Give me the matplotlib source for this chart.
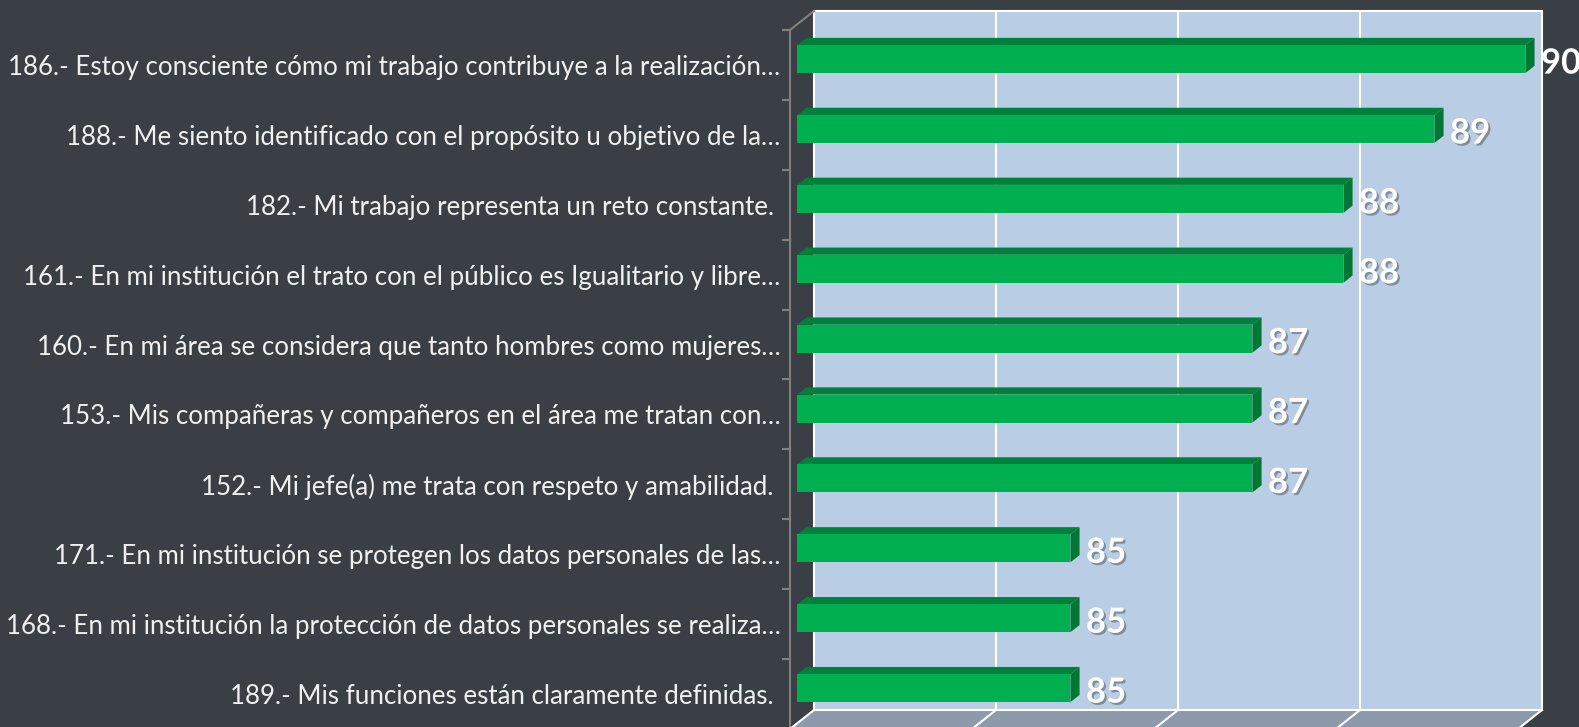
import matplotlib
matplotlib.use("Agg")
import matplotlib.pyplot as plt
import matplotlib.patheffects as pe
from matplotlib.patches import Polygon, Rectangle
from matplotlib.lines import Line2D
from matplotlib.transforms import IdentityTransform, ScaledTranslation
import numpy as np

labels = [
    "186.- Estoy consciente cómo mi trabajo contribuye a la realización…",
    "188.- Me siento identificado con el propósito u objetivo de la…",
    "182.- Mi trabajo representa un reto constante. ",
    "161.- En mi institución el trato con el público es Igualitario y libre…",
    "160.- En mi área se considera que tanto hombres como mujeres…",
    "153.- Mis compañeras y compañeros en el área me tratan con…",
    "152.- Mi jefe(a) me trata con respeto y amabilidad. ",
    "171.- En mi institución se protegen los datos personales de las…",
    "168.- En mi institución la protección de datos personales se realiza…",
    "189.- Mis funciones están claramente definidas. ",
]
values = [90, 89, 88, 88, 87, 87, 87, 85, 85, 85]
x_min, x_max = 82, 90
grid_values = [82, 84, 86, 88, 90]

BG = "#3a3f46"
WALL = "#b9cde4"
FLOOR = "#8c9aab"
GREEN = "#00b050"
GREEN_TOP = "#00803a"
GREEN_SIDE = "#007733"
AXIS_GRAY = "#808080"
TEXT = "#f0f0f0"
FONT = ["Lato", "DejaVu Sans"]

DPI = 100
DEPTH = np.array([24.0, 19.0])   # pixel offset of the back plane
BAR_D0, BAR_D1 = 0.31, 0.69      # bar depth inside the plot box
BAR_H = 0.4

fig = plt.figure(figsize=(15.79, 7.27), dpi=DPI, facecolor=BG)
ax = fig.add_axes([790 / 1579, -2 / 727, 728 / 1579, 699 / 727])
ax.set_facecolor("none")
ax.set_xlim(x_min, x_max)
ax.set_ylim(len(labels) - 0.5, -0.5)
ax.set_autoscale_on(False)


def depth_shift(d):
    return ScaledTranslation(d * DEPTH[0] / DPI, d * DEPTH[1] / DPI, fig.dpi_scale_trans)


def proj(v, c, d):
    return ax.transData.transform((v, c)) + d * DEPTH


def face(pts, color, z):
    ax.add_patch(Polygon(pts, closed=True, fc=color, ec="none",
                         transform=IdentityTransform(), clip_on=False, zorder=z))


n = len(labels)
y = np.arange(n)
top, bottom = -0.5, n - 0.5

# floor
face([proj(x_min, bottom, 0), proj(x_max, bottom, 0),
      proj(x_max, bottom, 1), proj(x_min, bottom, 1)], FLOOR, 1)
for g in grid_values:
    p0, p1 = proj(g, bottom, 0), proj(g, bottom, 1)
    ax.add_line(Line2D([p0[0], p1[0]], [p0[1], p1[1]], color="white", lw=1.5,
                       transform=IdentityTransform(), clip_on=False, zorder=2))

# back wall with gridlines
back = ax.transData + depth_shift(1)
ax.add_patch(Rectangle((x_min, top), x_max - x_min, bottom - top, fc=WALL,
                       ec="white", lw=1.5, transform=back, clip_on=False, zorder=1))
ax.vlines(grid_values[1:-1], top, bottom, colors="white", lw=1.5,
          transform=back, clip_on=False, zorder=2)

# top-left edge of the box
p0, p1 = proj(x_min, top, 0), proj(x_min, top, 1)
ax.add_line(Line2D([p0[0], p1[0]], [p0[1], p1[1]], color=AXIS_GRAY, lw=1.5,
                   transform=IdentityTransform(), clip_on=False, zorder=2))

# bars: front face, then top and right end
vals = np.array(values)
ax.barh(y, vals - x_min, left=x_min, height=BAR_H, color=GREEN,
        transform=ax.transData + depth_shift(BAR_D0), clip_on=False, zorder=4)
for i, v in enumerate(values):
    yt, yb = i - BAR_H / 2, i + BAR_H / 2
    face([proj(x_min, yt, BAR_D0), proj(v, yt, BAR_D0),
          proj(v, yt, BAR_D1), proj(x_min, yt, BAR_D1)], GREEN_TOP, 3)
    face([proj(v, yt, BAR_D0), proj(v, yt, BAR_D1),
          proj(v, yb, BAR_D1), proj(v, yb, BAR_D0)], GREEN_SIDE, 3)
    ax.annotate(str(v), xy=(v, i), xytext=(16.5, 1), textcoords="offset points",
                ha="left", va="center", fontsize=25, fontweight="bold",
                family=FONT, color="white", annotation_clip=False, zorder=6,
                path_effects=[pe.withSimplePatchShadow(offset=(1.5, -1.5),
                                                       shadow_rgbFace="#404040",
                                                       alpha=0.45)])

# axis
for s in ["top", "right", "bottom"]:
    ax.spines[s].set_visible(False)
ax.spines["left"].set_color(AXIS_GRAY)
ax.spines["left"].set_linewidth(1.5)
ax.spines["left"].set_zorder(5)
ax.xaxis.set_visible(False)
ax.set_yticks(y)
ax.set_yticklabels(labels, fontsize=18.6, color=TEXT, family=FONT)
ax.set_yticks(np.arange(top, bottom + 0.1, 1), minor=True)
ax.tick_params(axis="y", which="major", length=0, pad=7)
ax.tick_params(axis="y", which="minor", length=5.8, width=1.5, color=AXIS_GRAY)

fig.savefig("out.png", dpi=DPI, facecolor=BG)
